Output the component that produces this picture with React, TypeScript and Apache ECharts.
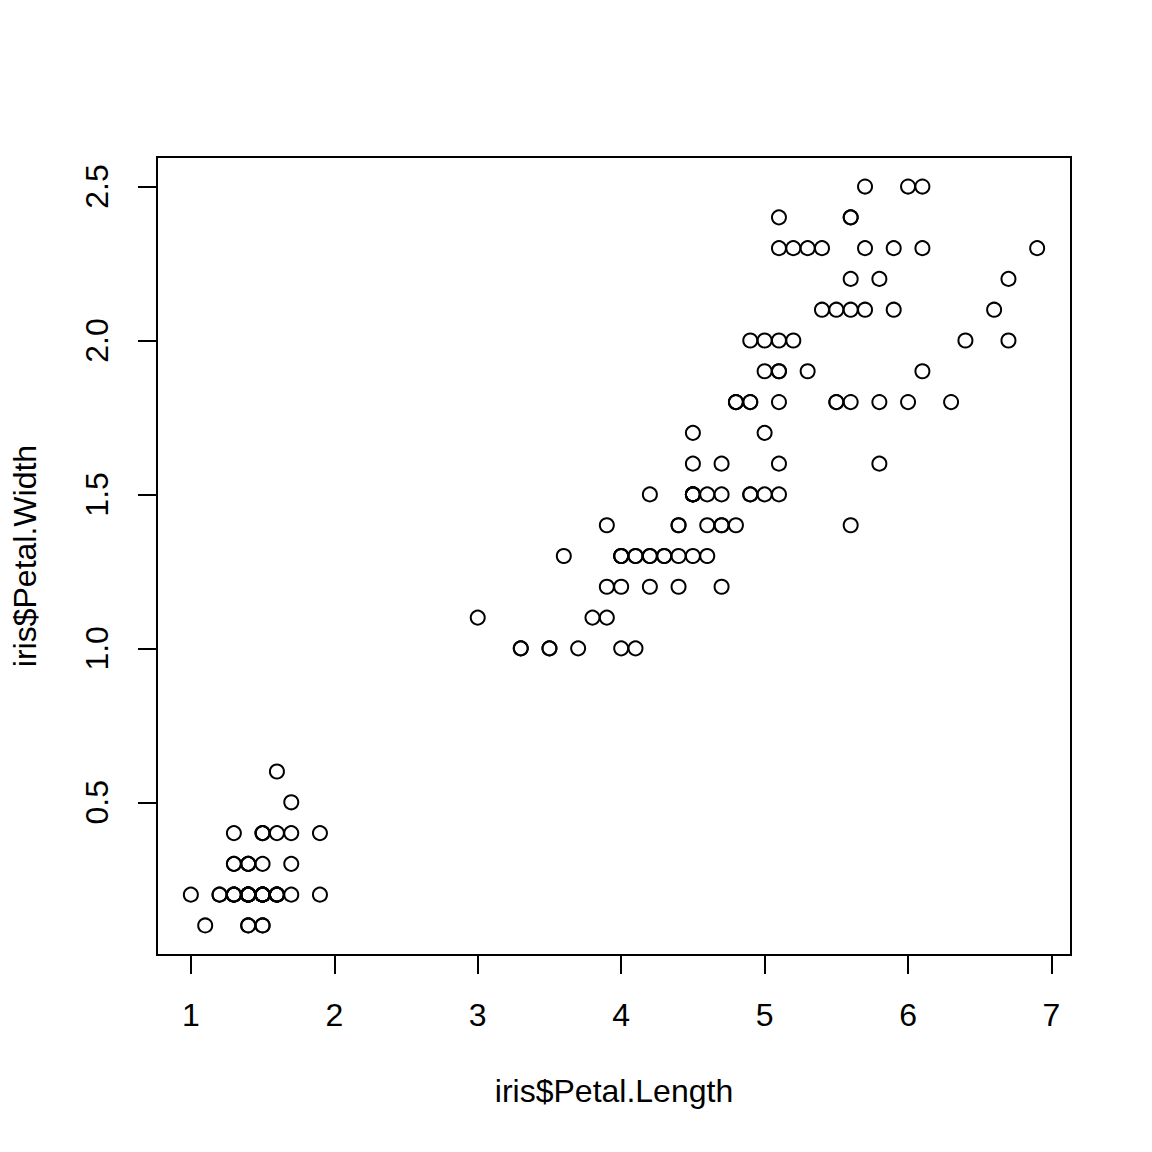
import React, { useEffect, useRef } from "react";
import * as echarts from "echarts";

const petalLength = [
  1.4, 1.4, 1.3, 1.5, 1.4, 1.7, 1.4, 1.5, 1.4, 1.5, 1.5, 1.6, 1.4, 1.1, 1.2, 1.5, 1.3, 1.4, 1.7, 1.5,
  1.7, 1.5, 1.0, 1.7, 1.9, 1.6, 1.6, 1.5, 1.4, 1.6, 1.6, 1.5, 1.5, 1.4, 1.5, 1.2, 1.3, 1.4, 1.3, 1.5,
  1.3, 1.3, 1.3, 1.6, 1.9, 1.4, 1.6, 1.4, 1.5, 1.4,
  4.7, 4.5, 4.9, 4.0, 4.6, 4.5, 4.7, 3.3, 4.6, 3.9, 3.5, 4.2, 4.0, 4.7, 3.6, 4.4, 4.5, 4.1, 4.5, 3.9,
  4.8, 4.0, 4.9, 4.7, 4.3, 4.4, 4.8, 5.0, 4.5, 3.5, 3.8, 3.7, 3.9, 5.1, 4.5, 4.5, 4.7, 4.4, 4.1, 4.0,
  4.4, 4.6, 4.0, 3.3, 4.2, 4.2, 4.2, 4.3, 3.0, 4.1,
  6.0, 5.1, 5.9, 5.6, 5.8, 6.6, 4.5, 6.3, 5.8, 6.1, 5.1, 5.3, 5.5, 5.0, 5.1, 5.3, 5.5, 6.7, 6.9, 5.0,
  5.7, 4.9, 6.7, 4.9, 5.7, 6.0, 4.8, 4.9, 5.6, 5.8, 6.1, 6.4, 5.6, 5.1, 5.6, 6.1, 5.6, 5.5, 4.8, 5.4,
  5.6, 5.1, 5.1, 5.9, 5.7, 5.2, 5.0, 5.2, 5.4, 5.1,
];

const petalWidth = [
  0.2, 0.2, 0.2, 0.2, 0.2, 0.4, 0.3, 0.2, 0.2, 0.1, 0.2, 0.2, 0.1, 0.1, 0.2, 0.4, 0.4, 0.3, 0.3, 0.3,
  0.2, 0.4, 0.2, 0.5, 0.2, 0.2, 0.4, 0.2, 0.2, 0.2, 0.2, 0.4, 0.1, 0.2, 0.2, 0.2, 0.2, 0.1, 0.2, 0.2,
  0.3, 0.3, 0.2, 0.6, 0.4, 0.3, 0.2, 0.2, 0.2, 0.2,
  1.4, 1.5, 1.5, 1.3, 1.5, 1.3, 1.6, 1.0, 1.3, 1.4, 1.0, 1.5, 1.0, 1.4, 1.3, 1.4, 1.5, 1.0, 1.5, 1.1,
  1.8, 1.3, 1.5, 1.2, 1.3, 1.4, 1.4, 1.7, 1.5, 1.0, 1.1, 1.0, 1.2, 1.6, 1.5, 1.6, 1.5, 1.3, 1.3, 1.3,
  1.2, 1.4, 1.2, 1.0, 1.3, 1.2, 1.3, 1.3, 1.1, 1.3,
  2.5, 1.9, 2.1, 1.8, 2.2, 2.1, 1.7, 1.8, 1.8, 2.5, 2.0, 1.9, 2.1, 2.0, 2.4, 2.3, 1.8, 2.2, 2.3, 1.5,
  2.3, 2.0, 2.0, 1.8, 2.1, 1.8, 1.8, 1.8, 2.1, 1.6, 1.9, 2.0, 2.2, 1.5, 1.4, 2.3, 2.4, 1.8, 1.8, 2.1,
  2.4, 2.3, 1.9, 2.3, 2.5, 2.3, 1.9, 2.0, 2.3, 1.8,
];

const xTicks = [1, 2, 3, 4, 5, 6, 7];
const yTicks = [0.5, 1.0, 1.5, 2.0, 2.5];

const xName = "iris$Petal.Length";
const yName = "iris$Petal.Width";

const FONT = "'Liberation Sans', Arial, Helvetica, sans-serif";

export default function App() {
  const ref = useRef<HTMLDivElement>(null);

  useEffect(() => {
    document.body.style.margin = "0";
    if (!ref.current) return;
    const chart = echarts.init(ref.current, null, { renderer: "svg" });

    const xMin = Math.min(...petalLength);
    const xMax = Math.max(...petalLength);
    const yMin = Math.min(...petalWidth);
    const yMax = Math.max(...petalWidth);
    const xPad = (xMax - xMin) * 0.04;
    const yPad = (yMax - yMin) * 0.04;

    const data = petalLength.map((x, i) => [x, petalWidth[i]]);

    chart.setOption({
      animation: false,
      backgroundColor: "#ffffff",
      textStyle: { fontFamily: FONT, color: "#000" },
      grid: {
        left: 157,
        top: 157,
        width: 914,
        height: 798,
        show: true,
        borderColor: "#000",
        borderWidth: 2,
        backgroundColor: "transparent",
        containLabel: false,
      },
      xAxis: {
        type: "value",
        min: xMin - xPad,
        max: xMax + xPad,
        name: xName,
        nameLocation: "middle",
        nameGap: 120,
        nameTextStyle: { fontSize: 32, color: "#000", fontFamily: FONT },
        axisLine: { show: false },
        splitLine: { show: false },
        axisTick: {
          show: true,
          customValues: xTicks,
          length: 19,
          lineStyle: { color: "#000", width: 2 },
        },
        axisLabel: {
          show: true,
          customValues: xTicks,
          fontSize: 32,
          color: "#000",
          fontFamily: FONT,
          margin: 44,
          formatter: (v: number) => String(v),
        },
      },
      yAxis: {
        type: "value",
        min: yMin - yPad,
        max: yMax + yPad,
        name: yName,
        nameLocation: "middle",
        nameGap: 116,
        nameRotate: 90,
        nameTextStyle: { fontSize: 32, color: "#000", fontFamily: FONT },
        axisLine: { show: false },
        splitLine: { show: false },
        axisTick: {
          show: true,
          customValues: yTicks,
          length: 19,
          lineStyle: { color: "#000", width: 2 },
        },
        axisLabel: {
          show: true,
          customValues: yTicks,
          rotate: 90,
          fontSize: 32,
          color: "#000",
          fontFamily: FONT,
          margin: 44,
          formatter: (v: number) => v.toFixed(1),
        },
      },
      series: [
        {
          type: "scatter",
          data,
          symbol: "circle",
          symbolSize: 14,
          itemStyle: {
            color: "rgba(0,0,0,0)",
            borderColor: "#000",
            borderWidth: 2,
            opacity: 1,
          },
          emphasis: { disabled: true },
        },
      ],
    });

    return () => chart.dispose();
  }, []);

  return <div ref={ref} style={{ width: 1152, height: 1152 }} />;
}
